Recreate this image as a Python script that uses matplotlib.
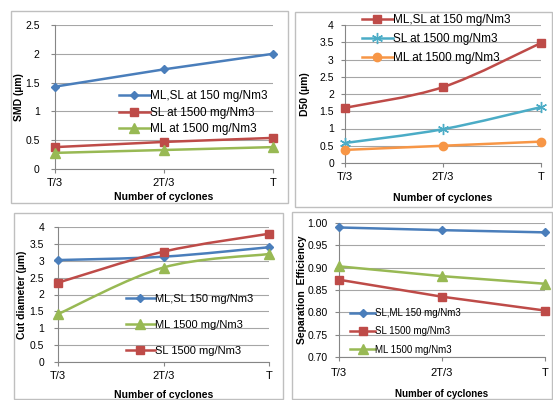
import matplotlib
matplotlib.use("Agg")
import matplotlib.pyplot as plt
from matplotlib.path import Path
from matplotlib.patches import PathPatch, Rectangle
from matplotlib.lines import Line2D
import numpy as np

plt.rcParams['font.family'] = ['Liberation Sans', 'DejaVu Sans']

categories = ["T/3", "2T/3", "T"]

# Panel 1: SMD
smd_150 = [1.43, 1.73, 2.00]
smd_sl1500 = [0.38, 0.47, 0.54]
smd_ml1500 = [0.28, 0.33, 0.38]

# Panel 2: D50
d50_150 = [1.60, 2.20, 3.48]
d50_sl1500 = [0.58, 0.98, 1.62]
d50_ml1500 = [0.38, 0.50, 0.62]

# Panel 3: Cut diameter
cut_150 = [3.02, 3.12, 3.40]
cut_ml1500 = [1.42, 2.80, 3.20]
cut_sl1500 = [2.35, 3.27, 3.80]

# Panel 4: Separation efficiency
eff_150 = [0.990, 0.984, 0.979]
eff_sl1500 = [0.873, 0.835, 0.804]
eff_ml1500 = [0.903, 0.881, 0.864]

BLUE = "#4A7EBB"
RED = "#BE4B48"
GREEN = "#98B954"
TEAL = "#4BACC6"
ORANGE = "#F79646"
GRID = "#A6A6A6"

W, H = 553, 400
fig = plt.figure(figsize=(5.53, 4.0), dpi=100)


def fr(x0, y0, x1, y1):
    return [x0 / W, 1 - y1 / H, (x1 - x0) / W, (y1 - y0) / H]


# panel borders
for (x0, y0, x1, y1) in [(11, 11, 288, 203), (295, 12, 552, 207),
                         (14, 213, 283, 399), (292, 212, 552, 399)]:
    fig.patches.append(Rectangle((x0 / W, 1 - y1 / H), (x1 - x0) / W, (y1 - y0) / H,
                                 transform=fig.transFigure, fill=False,
                                 edgecolor="#BFBFBF", lw=1.0))


def smooth_path(xs, ys, t=1 / 6):
    verts = [(xs[0], ys[0])]
    codes = [Path.MOVETO]
    n = len(xs)
    for i in range(n - 1):
        p0 = (xs[max(i - 1, 0)], ys[max(i - 1, 0)])
        p1 = (xs[i], ys[i])
        p2 = (xs[i + 1], ys[i + 1])
        p3 = (xs[min(i + 2, n - 1)], ys[min(i + 2, n - 1)])
        c1 = (p1[0] + (p2[0] - p0[0]) * t, p1[1] + (p2[1] - p0[1]) * t)
        c2 = (p2[0] - (p3[0] - p1[0]) * t, p2[1] - (p3[1] - p1[1]) * t)
        verts += [c1, c2, p2]
        codes += [Path.CURVE4] * 3
    return Path(verts, codes)


def setup(ax, ylim, yticks, fmt, ylabel, ypad, ylab_x, xlab_y, xpad=3.5, xlab_size=7.5):
    ax.set_xlim(0, 2)
    ax.set_ylim(*ylim)
    ax.set_yticks(yticks)
    ax.set_yticklabels([fmt(v) for v in yticks], fontsize=7.5)
    ax.set_xticks([0, 1, 2])
    ax.set_xticklabels(categories, fontsize=8)
    ax.grid(axis='y', color=GRID, lw=0.8)
    ax.set_axisbelow(True)
    for s in ['top', 'right']:
        ax.spines[s].set_visible(False)
    for s in ['left', 'bottom']:
        ax.spines[s].set_color("#868686")
        ax.spines[s].set_linewidth(0.8)
    ax.tick_params(axis='x', length=3, color="#868686", pad=xpad)
    ax.tick_params(axis='y', length=3, color="#868686", pad=ypad)
    ax.set_xlabel("Number of cyclones", fontsize=xlab_size, fontweight='bold', va='top')
    ax.set_ylabel(ylabel, fontsize=7.5, fontweight='bold')
    ax.xaxis.set_label_coords(0.5, xlab_y)
    ax.yaxis.set_label_coords(ylab_x, 0.5)
    ax.set_facecolor('none')


x = np.arange(3)


def series(ax, y, color, marker, ms, smooth=False):
    if smooth:
        ax.add_patch(PathPatch(smooth_path(list(x), y), fill=False, edgecolor=color, lw=1.8))
        ax.plot(x, y, linestyle='none', marker=marker, color=color, ms=ms, mec=color,
                clip_on=False, zorder=3)
    else:
        ax.plot(x, y, color=color, marker=marker, ms=ms, lw=1.8, clip_on=False, zorder=3)
    return Line2D([], [], color=color, marker=marker, ms=ms, lw=1.8, mec=color)


def legend(ax, handles, labels, anchor, spacing, fs):
    ax.legend(handles, labels, loc='upper left', bbox_to_anchor=(anchor[0] / W, 1 - anchor[1] / H),
              bbox_transform=fig.transFigure, frameon=False, fontsize=fs,
              handlelength=2.6, handletextpad=0.0, borderpad=0, borderaxespad=0,
              labelspacing=spacing)


# Panel 1
ax1 = fig.add_axes(fr(55, 25, 273, 169))
setup(ax1, (0, 2.5), [0, 0.5, 1, 1.5, 2, 2.5], lambda v: f"{v:g}", "SMD (µm)",
      ypad=8, ylab_x=-0.14, xlab_y=-0.162)
h = [series(ax1, smd_150, BLUE, 'D', 4.5),
     series(ax1, smd_sl1500, RED, 's', 6),
     series(ax1, smd_ml1500, GREEN, '^', 6.5)]
legend(ax1, h, ["ML,SL at 150 mg/Nm3", "SL at 1500 mg/Nm3", "ML at 1500 mg/Nm3"], (119, 90), 0.4, 8.5)

# Panel 2
ax2 = fig.add_axes(fr(345, 25, 541, 163))
setup(ax2, (0, 4), [0, 0.5, 1, 1.5, 2, 2.5, 3, 3.5, 4], lambda v: f"{v:g}", "D50 (µm)",
      ypad=5, ylab_x=-0.18, xlab_y=-0.215)
h = [series(ax2, d50_150, RED, 's', 6, smooth=True),
     series(ax2, d50_sl1500, TEAL, (6, 2, 0), 8, smooth=True),
     series(ax2, d50_ml1500, ORANGE, 'o', 6, smooth=True)]
legend(ax2, h, ["ML,SL at 150 mg/Nm3", "SL at 1500 mg/Nm3", "ML at 1500 mg/Nm3"], (362, 14), 0.6, 8.5)

# Panel 3
ax3 = fig.add_axes(fr(58, 227, 269, 362))
setup(ax3, (0, 4), [0, 0.5, 1, 1.5, 2, 2.5, 3, 3.5, 4], lambda v: f"{v:g}", "Cut diameter (µm)",
      ypad=7, ylab_x=-0.145, xlab_y=-0.21)
h = [series(ax3, cut_150, BLUE, 'D', 4.5, smooth=True),
     series(ax3, cut_ml1500, GREEN, '^', 6.5, smooth=True),
     series(ax3, cut_sl1500, RED, 's', 6, smooth=True)]
legend(ax3, h, ["ML,SL 150 mg/Nm3", "ML 1500 mg/Nm3", "SL 1500 mg/Nm3"], (126, 294), 1.45, 8)

# Panel 4
ax4 = fig.add_axes(fr(339, 223, 545, 357))
setup(ax4, (0.70, 1.00), [0.70, 0.75, 0.80, 0.85, 0.90, 0.95, 1.00], lambda v: f"{v:.2f}",
      "Separation  Efficiency", ypad=5, ylab_x=-0.155, xlab_y=-0.24, xpad=5, xlab_size=7)
h = [series(ax4, eff_150, BLUE, 'D', 4.5),
     series(ax4, eff_sl1500, RED, 's', 6),
     series(ax4, eff_ml1500, GREEN, '^', 6.5)]
legend(ax4, h, ["SL,ML 150 mg/Nm3", "SL 1500 mg/Nm3", "ML 1500 mg/Nm3"], (350, 308), 0.85, 7)

fig.savefig("out.png", dpi=100)
